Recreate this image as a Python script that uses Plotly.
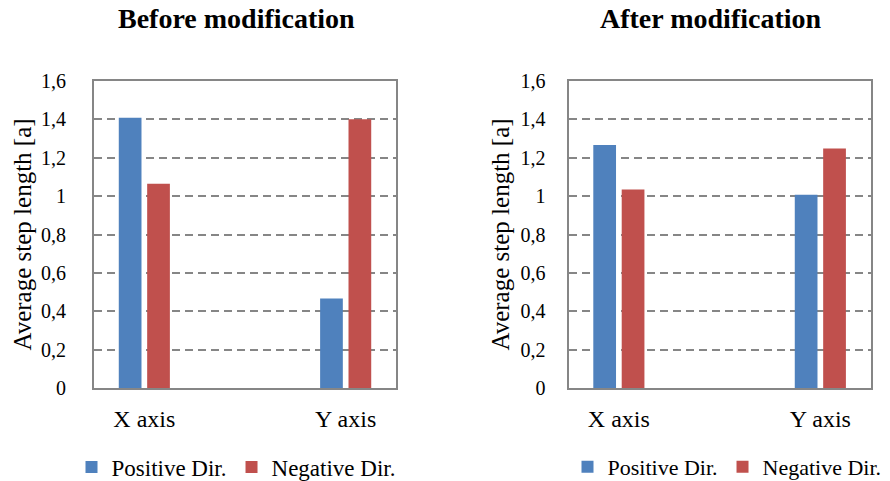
import plotly.graph_objects as go

# Data: average step length per axis, before and after the modification
categories = ["X axis", "", "Y axis"]
positive_before = [1.408, None, 0.467]
negative_before = [1.064, None, 1.401]
positive_after = [1.266, None, 1.007]
negative_after = [1.035, None, 1.248]
y_ticks = [0, 0.2, 0.4, 0.6, 0.8, 1.0, 1.2, 1.4, 1.6]
y_tick_labels = ["0", "0,2", "0,4", "0,6", "0,8", "1", "1,2", "1,4", "1,6"]
panel_titles = ["Before modification", "After modification"]
y_title = "Average step length [a]"
series_names = ["Positive Dir.", "Negative Dir."]

BLUE = "#4F81BD"
RED = "#C0504D"
GRID = "#868686"
FONT = "Liberation Serif"

W, H = 890, 481
x_pos = list(range(len(categories)))

fig = go.Figure()

panels = [
    (positive_before, negative_before, "x", "y", "legend"),
    (positive_after, negative_after, "x2", "y2", "legend2"),
]
for pos, neg, xa, ya, lg in panels:
    fig.add_trace(go.Bar(x=x_pos, y=pos, name=series_names[0], marker_color=BLUE,
                         marker_line_width=0, xaxis=xa, yaxis=ya, legend=lg))
    fig.add_trace(go.Bar(x=x_pos, y=neg, name=series_names[1], marker_color=RED,
                         marker_line_width=0, xaxis=xa, yaxis=ya, legend=lg))

def px_x(v):
    return v / W

def px_y(v):
    return 1 - v / H

y_dom = [px_y(388), px_y(81)]

xaxis_common = dict(
    range=[-0.5, 2.5], tickmode="array", tickvals=[0, 2], ticktext=[categories[0], categories[2]],
    showgrid=False, zeroline=False, showline=True, linecolor=GRID, linewidth=2, mirror=True,
    ticks="", tickfont=dict(family=FONT, size=24, color="black"), ticklabelstandoff=8,
    fixedrange=True,
)
yaxis_common = dict(
    range=[0, 1.6], tickmode="array", tickvals=y_ticks, ticktext=y_tick_labels,
    showgrid=True, gridcolor=GRID, gridwidth=2, griddash="8px,5px",
    zeroline=False, showline=True, linecolor=GRID, linewidth=2, mirror=True,
    ticks="", tickfont=dict(family=FONT, size=20, color="black"),
    fixedrange=True,
)

legend_common = dict(orientation="h", xanchor="left", yanchor="middle", y=px_y(467),
                     bgcolor="rgba(0,0,0,0)")

fig.update_layout(
    width=W, height=H,
    margin=dict(l=0, r=0, t=0, b=0, autoexpand=False),
    paper_bgcolor="white", plot_bgcolor="white",
    barmode="group", bargap=0.436, bargroupgap=0.2,
    font=dict(family=FONT, color="black"),
    xaxis=dict(domain=[px_x(94), px_x(396)], anchor="y", **xaxis_common),
    yaxis=dict(domain=y_dom, anchor="x", ticklabelstandoff=22, **yaxis_common),
    xaxis2=dict(domain=[px_x(568.5), px_x(870.7)], anchor="y2", **xaxis_common),
    yaxis2=dict(domain=y_dom, anchor="x2", ticklabelstandoff=17, **yaxis_common),
    legend=dict(x=px_x(71.5), font=dict(family=FONT, size=23, color="black"), **legend_common),
    legend2=dict(x=px_x(567.5), font=dict(family=FONT, size=22, color="black"), **legend_common),
    showlegend=True,
)

# Panel titles and y-axis titles
for cx, text in zip([236, 711], panel_titles):
    fig.add_annotation(x=px_x(cx), y=px_y(18), xref="paper", yref="paper", text=f"<b>{text}</b>",
                       showarrow=False, xanchor="center", yanchor="middle",
                       font=dict(family=FONT, size=28, color="black"))
for cx in [22, 500]:
    fig.add_annotation(x=px_x(cx), y=px_y(234.5), xref="paper", yref="paper", text=y_title,
                       showarrow=False, textangle=-90, xanchor="center", yanchor="middle",
                       font=dict(family=FONT, size=25, color="black"))

fig.write_html("out.html")
